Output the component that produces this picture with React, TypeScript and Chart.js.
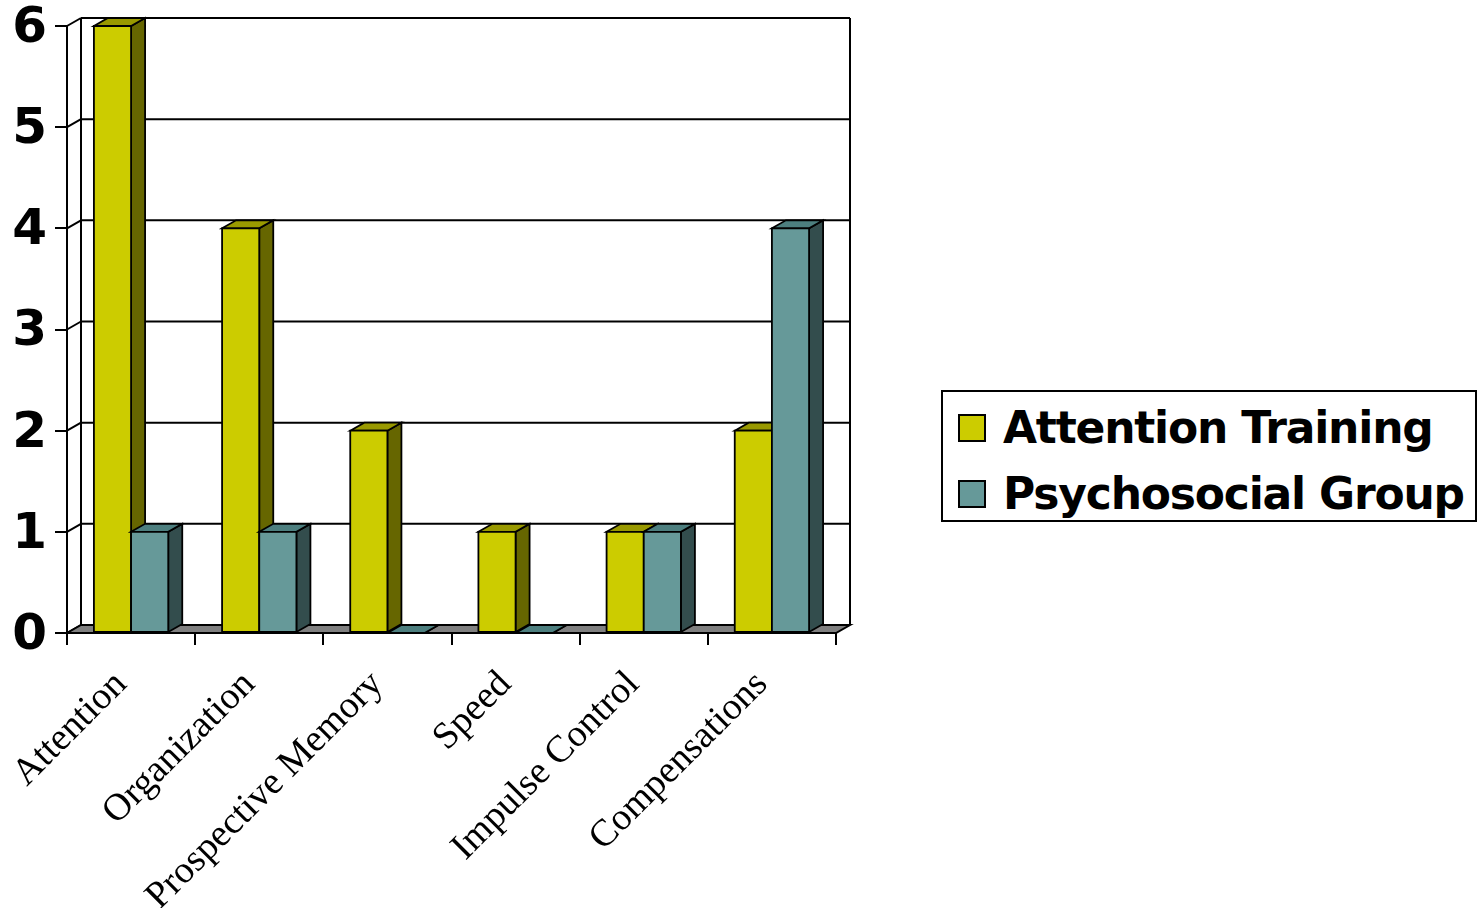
import React, { useEffect, useRef } from 'react';
import { Chart, registerables } from 'chart.js';

Chart.register(...registerables);

const categories = ['Attention', 'Organization', 'Prospective Memory', 'Speed', 'Impulse Control', 'Compensations'];
const attentionTraining = [6, 4, 2, 1, 1, 2];
const psychosocialGroup = [1, 1, 0, 0, 1, 4];
const yTickValues = [0, 1, 2, 3, 4, 5, 6];
const seriesNames = ['Attention Training', 'Psychosocial Group'];

const DX = 14;
const DY = 8;
const faceColors = [
  { front: '#CCCC00', top: '#999900', side: '#666600' },
  { front: '#669999', top: '#4D7F7F', side: '#334D4D' },
];

const threeD = {
  id: 'threeD',
  beforeDatasetsDraw(chart: any) {
    const { ctx, chartArea } = chart;
    const { left, right, top, bottom } = chartArea;
    const y = chart.scales.y;
    const line = (x1: number, y1: number, x2: number, y2: number) => {
      ctx.beginPath();
      ctx.moveTo(x1, y1);
      ctx.lineTo(x2, y2);
      ctx.stroke();
    };
    ctx.save();
    ctx.strokeStyle = '#000';
    ctx.lineWidth = 2;
    yTickValues.forEach((v) => {
      const py = y.getPixelForValue(v);
      line(left + DX, py - DY, right + DX, py - DY);
      line(left, py, left + DX, py - DY);
    });
    line(left + DX, top - DY, left + DX, bottom - DY);
    line(right + DX, top - DY, right + DX, bottom - DY);
    ctx.fillStyle = '#808080';
    ctx.beginPath();
    ctx.moveTo(left, bottom);
    ctx.lineTo(right, bottom);
    ctx.lineTo(right + DX, bottom - DY);
    ctx.lineTo(left + DX, bottom - DY);
    ctx.closePath();
    ctx.fill();
    ctx.stroke();
    line(left, top, left, bottom);

    ctx.lineWidth = 1.8;
    const metas = chart.getSortedVisibleDatasetMetas();
    for (let i = 0; i < categories.length; i++) {
      for (const meta of metas) {
        const el = meta.data[i];
        if (!el) continue;
        const p = el.getProps(['x', 'y', 'base', 'width'], true);
        const c = faceColors[meta.index];
        const l = p.x - p.width / 2;
        const r = p.x + p.width / 2;
        const t = Math.min(p.y, p.base);
        const b = Math.max(p.y, p.base);
        ctx.fillStyle = c.side;
        ctx.beginPath();
        ctx.moveTo(r, t);
        ctx.lineTo(r + DX, t - DY);
        ctx.lineTo(r + DX, b - DY);
        ctx.lineTo(r, b);
        ctx.closePath();
        ctx.fill();
        ctx.stroke();
        ctx.fillStyle = c.top;
        ctx.beginPath();
        ctx.moveTo(l, t);
        ctx.lineTo(l + DX, t - DY);
        ctx.lineTo(r + DX, t - DY);
        ctx.lineTo(r, t);
        ctx.closePath();
        ctx.fill();
        ctx.stroke();
        ctx.fillStyle = c.front;
        ctx.beginPath();
        ctx.rect(l, t, r - l, b - t);
        ctx.fill();
        ctx.stroke();
      }
    }
    ctx.restore();
    return false;
  },
};

export default function App() {
  const canvasRef = useRef<HTMLCanvasElement | null>(null);

  useEffect(() => {
    if (!canvasRef.current) return;
    const chart = new Chart(canvasRef.current, {
      type: 'bar',
      data: {
        labels: categories,
        datasets: [
          { label: seriesNames[0], data: attentionTraining, backgroundColor: faceColors[0].front, borderWidth: 0 },
          { label: seriesNames[1], data: psychosocialGroup, backgroundColor: faceColors[1].front, borderWidth: 0 },
        ],
      },
      options: {
        animation: false,
        responsive: false,
        maintainAspectRatio: false,
        layout: { padding: { top: 26, right: 647, left: 0, bottom: 0 } },
        datasets: { bar: { categoryPercentage: 0.58, barPercentage: 1 } },
        plugins: { legend: { display: false }, tooltip: { enabled: false } },
        scales: {
          x: {
            ticks: {
              color: '#000',
              font: { family: 'Liberation Serif', size: 38, lineHeight: 1 },
              minRotation: 45,
              maxRotation: 45,
              padding: 20,
              labelOffset: -10,
              autoSkip: false,
            },
            grid: { display: true, drawOnChartArea: false, drawTicks: true, tickLength: 12, color: '#000', lineWidth: 2, offset: true },
            border: { display: true, color: '#000', width: 2 },
            afterFit: (s: any) => { s.height = 275; },
          },
          y: {
            min: 0,
            max: 6,
            ticks: {
              stepSize: 1,
              color: '#000',
              font: { family: 'DejaVu Sans', weight: 'bold', size: 50, lineHeight: 0.5 },
              padding: 8,
              labelOffset: 3,
            },
            grid: { display: true, drawOnChartArea: false, drawTicks: true, tickLength: 12, color: '#000', lineWidth: 2 },
            border: { display: true, color: '#000', width: 2 },
            afterFit: (s: any) => { s.width = 67; },
          },
        },
      },
      plugins: [threeD],
    });
    return () => chart.destroy();
  }, []);

  return (
    <div style={{ position: 'absolute', left: 0, top: 0, width: 1483, height: 908, background: '#fff' }}>
      <canvas ref={canvasRef} width={1483} height={908} style={{ position: 'absolute', left: 0, top: 0, width: 1483, height: 908 }} />
      <div
        style={{
          position: 'absolute',
          left: 941,
          top: 390,
          width: 536,
          height: 132,
          border: '2px solid #000',
          boxSizing: 'border-box',
          background: '#fff',
        }}
      >
        {seriesNames.map((name, i) => (
          <div
            key={name}
            style={{ position: 'absolute', left: 15, top: 14 + i * 66, height: 44, display: 'flex', alignItems: 'center', whiteSpace: 'nowrap' }}
          >
            <span
              style={{
                display: 'inline-block',
                width: 28,
                height: 28,
                boxSizing: 'border-box',
                border: '2px solid #000',
                background: faceColors[i].front,
              }}
            />
            <span
              style={{
                marginLeft: 17,
                fontFamily: 'DejaVu Sans',
                fontWeight: 'bold',
                fontSize: 44,
                lineHeight: '44px',
                letterSpacing: '-1.2px',
                color: '#000',
              }}
            >
              {name}
            </span>
          </div>
        ))}
      </div>
    </div>
  );
}
